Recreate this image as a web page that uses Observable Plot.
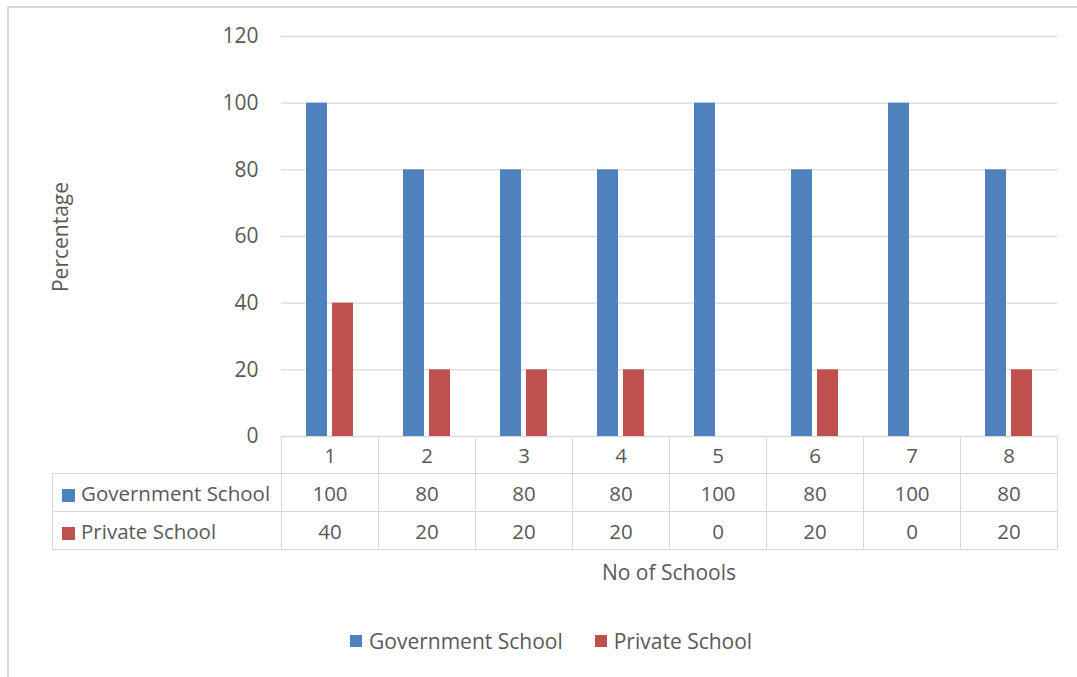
<!DOCTYPE html>
<html>
<head>
<meta charset="utf-8">
<script src="https://cdn.jsdelivr.net/npm/d3@7"></script>
<script src="https://cdn.jsdelivr.net/npm/@observablehq/plot@0.6"></script>
<style>
  html, body { margin: 0; padding: 0; background: #fff; }
  #wrap { position: relative; width: 1077px; height: 677px; overflow: hidden; font-family: "Open Sans", sans-serif; color: #595959; }
  #border { position: absolute; left: 7px; top: 6px; width: 1200px; height: 800px; border: 2px solid #d9d9d9; box-sizing: border-box; }
  #chart { position: absolute; left: 0; top: 0; }
  #ylabel { position: absolute; left: 60px; top: 237px; transform: translate(-50%, -50%) rotate(-90deg); font-size: 21px; white-space: nowrap; }
  #xlabel { position: absolute; left: 669px; top: 572px; transform: translate(-50%, -50%); font-size: 21px; white-space: nowrap; }
  #tbl { position: absolute; left: 52px; top: 436px; border-collapse: collapse; table-layout: fixed; width: 1005px; font-size: 20.5px; color: #595959; }
  #tbl td { border: 1px solid #d9d9d9; padding: 0; text-align: center; overflow: hidden; white-space: nowrap; }
  #tbl td.lab { text-align: left; padding-left: 9px; }
  #tbl tr.h td { height: 36px; }
  #tbl tr.r1 td { height: 37px; }
  #tbl tr.r2 td { height: 37px; }
  #tbl td.empty { border-top: none; border-left: none; }
  .sw { display: inline-block; width: 13px; height: 13px; margin-right: 6px; vertical-align: -1px; }
  #legend { position: absolute; top: 641px; left: 350px; transform: translateY(-50%); font-size: 21px; display: flex; align-items: center; white-space: nowrap; }
  #legend .item { display: flex; align-items: center; }
  #legend .sw { width: 12px; height: 12px; margin-right: 7px; vertical-align: 0; }
</style>
</head>
<body>
<div id="wrap">
  <div id="border"></div>
  <div id="chart"></div>
  <div id="ylabel">Percentage</div>
  <div id="xlabel">No of Schools</div>
  <table id="tbl"></table>
  <div id="legend"></div>
</div>
<script>
const categories = ["1", "2", "3", "4", "5", "6", "7", "8"];
const seriesNames = ["Government School", "Private School"];
const government = [100, 80, 80, 80, 100, 80, 100, 80];
const privateSchool = [40, 20, 20, 20, 0, 20, 0, 20];
const colors = ["#4F81BD", "#C0504D"];
const yTicks = [0, 20, 40, 60, 80, 100, 120];

const seriesValues = [government, privateSchool];
const data = [];
categories.forEach((c, i) => {
  seriesNames.forEach((s, j) => data.push({cat: c, series: s, value: seriesValues[j][i]}));
});

const plot = Plot.plot({
  width: 1077,
  height: 440,
  marginLeft: 281,
  marginRight: 20,
  marginTop: 36,
  marginBottom: 4,
  style: {fontFamily: "Open Sans, sans-serif", fontSize: "21px", color: "#595959", background: "transparent", overflow: "visible"},
  fx: {domain: categories, padding: 0, axis: null},
  x: {domain: seriesNames, paddingInner: 0.1887, paddingOuter: 0.925, axis: null},
  y: {domain: [0, 120], ticks: yTicks, tickSize: 0, tickPadding: 23, label: null, tickFormat: d => String(d)},
  color: {domain: seriesNames, range: colors},
  marks: [
    Plot.ruleY(yTicks, {stroke: "#d9d9d9", strokeWidth: 1.3}),
    Plot.barY(data, {fx: "cat", x: "series", y: "value", fill: "series"})
  ]
});
document.getElementById("chart").appendChild(plot);

// data table
const tbl = document.getElementById("tbl");
let html = '<colgroup><col style="width:229px">' + categories.map(() => '<col style="width:97px">').join("") + '</colgroup>';
html += '<tr class="h"><td class="lab empty"></td>' + categories.map(c => `<td>${c}</td>`).join("") + "</tr>";
seriesNames.forEach((s, j) => {
  html += `<tr class="r${j + 1}"><td class="lab"><span class="sw" style="background:${colors[j]}"></span>${s}</td>` +
    seriesValues[j].map(v => `<td>${v}</td>`).join("") + "</tr>";
});
tbl.innerHTML = html;

// legend
document.getElementById("legend").innerHTML = seriesNames.map((s, j) =>
  `<span class="item" style="margin-right:${j === 0 ? 32 : 0}px"><span class="sw" style="background:${colors[j]}"></span>${s}</span>`).join("");
</script>
</body>
</html>
